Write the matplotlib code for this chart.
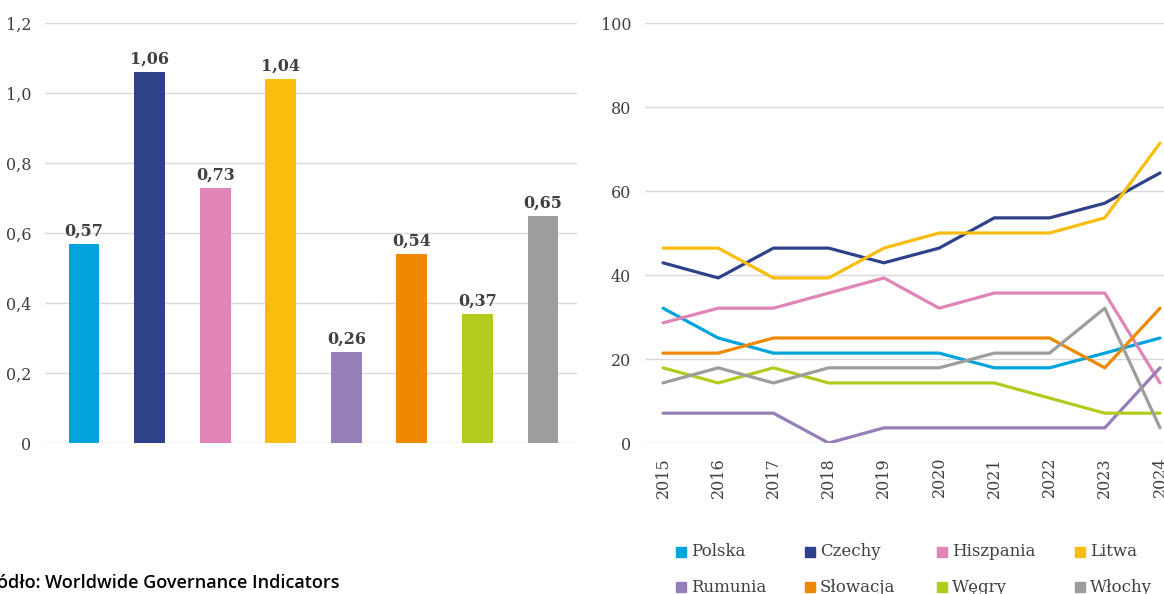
import matplotlib.pyplot as plt
from matplotlib.patches import Rectangle

countries = ["Polska", "Czechy", "Hiszpania", "Litwa",
             "Rumunia", "Słowacja", "Węgry", "Włochy"]
colors = ["#00a3dc", "#2f4189", "#e085b5", "#fbbd0d",
          "#967fb8", "#ee8900", "#b3cb1e", "#9d9d9c"]
bar_values = [0.57, 1.06, 0.73, 1.04, 0.26, 0.54, 0.37, 0.65]

years = [2015, 2016, 2017, 2018, 2019, 2020, 2021, 2022, 2023, 2024]
polska = [32.1, 25.0, 21.4, 21.4, 21.4, 21.4, 17.9, 17.9, 21.4, 25.0]
czechy = [42.9, 39.3, 46.4, 46.4, 42.9, 46.4, 53.6, 53.6, 57.1, 64.3]
hiszpania = [28.6, 32.1, 32.1, 35.7, 39.3, 32.1, 35.7, 35.7, 35.7, 14.3]
litwa = [46.4, 46.4, 39.3, 39.3, 46.4, 50.0, 50.0, 50.0, 53.6, 71.4]
rumunia = [7.1, 7.1, 7.1, 0.0, 3.6, 3.6, 3.6, 3.6, 3.6, 17.9]
slowacja = [21.4, 21.4, 25.0, 25.0, 25.0, 25.0, 25.0, 25.0, 17.9, 32.1]
wegry = [17.9, 14.3, 17.9, 14.3, 14.3, 14.3, 14.3, 10.7, 7.1, 7.1]
wlochy = [14.3, 17.9, 14.3, 17.9, 17.9, 17.9, 21.4, 21.4, 32.1, 3.6]
series = [polska, czechy, hiszpania, litwa, rumunia, slowacja, wegry, wlochy]

TXT = "#404040"
GRID = "#d9d9d9"
W, H = 1164, 594

plt.rcParams["font.family"] = ["DejaVu Serif"]

fig = plt.figure(figsize=(W / 100, H / 100), dpi=100)


def px_axes(x0, y0, x1, y1):
    # pixel box (top-left origin) -> figure axes
    return fig.add_axes([x0 / W, 1 - y1 / H, (x1 - x0) / W, (y1 - y0) / H])


def fmt(v, nd):
    return f"{v:.{nd}f}".replace(".", ",")


# left: bar chart
ax1 = px_axes(45, 23, 577, 443)
xs = list(range(len(bar_values)))
ax1.bar(xs, bar_values, width=0.47, color=colors, zorder=3)
for x, v in zip(xs, bar_values):
    ax1.text(x, v + 0.012, fmt(v, 2), ha="center", va="bottom",
             fontsize=11.5, fontweight="bold", color=TXT)
ax1.set_xlim(-0.595, 7.519)
ax1.set_ylim(0, 1.2)
ax1.set_yticks([0, 0.2, 0.4, 0.6, 0.8, 1.0, 1.2])
ax1.set_yticklabels(["0"] + [fmt(t, 1) for t in [0.2, 0.4, 0.6, 0.8, 1.0, 1.2]])
ax1.set_xticks([])
ax1.grid(axis="y", color=GRID, linewidth=1, zorder=0)

# right: line chart
ax2 = px_axes(645, 23, 1164, 443)
for vals, c in zip(series, colors):
    ax2.plot(years, vals, color=c, linewidth=2.3, zorder=3,
             solid_capstyle="round")
ax2.set_xlim(2015 - 18 / 55.2, 2024 + 4 / 55.2)
ax2.set_ylim(0, 100)
ax2.set_yticks([0, 20, 40, 60, 80, 100])
ax2.set_xticks(years)
ax2.set_xticklabels([str(y) for y in years], rotation=90)
ax2.grid(axis="y", color=GRID, linewidth=1, zorder=0)

for ax in (ax1, ax2):
    for sp in ax.spines.values():
        sp.set_visible(False)
    ax.tick_params(length=0, labelsize=11.5, colors=TXT, pad=10)
    ax.set_axisbelow(True)

# legend under the line chart
col_x = [691, 820, 952, 1090]
row_y = [552, 587]
for i, (name, c) in enumerate(zip(countries, colors)):
    r, k = divmod(i, 4)
    fig.patches.append(Rectangle(((col_x[k] - 15) / W, 1 - (row_y[r] + 5) / H),
                                 10 / W, 10 / H, color=c,
                                 transform=fig.transFigure, figure=fig))
    fig.text(col_x[k] / W, 1 - row_y[r] / H, name, color=TXT,
             fontsize=12, ha="left", va="center")

fig.text(-21 / W, 1 - 583 / H, "Źródło: Worldwide Governance Indicators",
         ha="left", va="center", fontsize=13, color="black",
         family="Open Sans", fontweight="semibold")

fig.savefig("out.png", dpi=100)
